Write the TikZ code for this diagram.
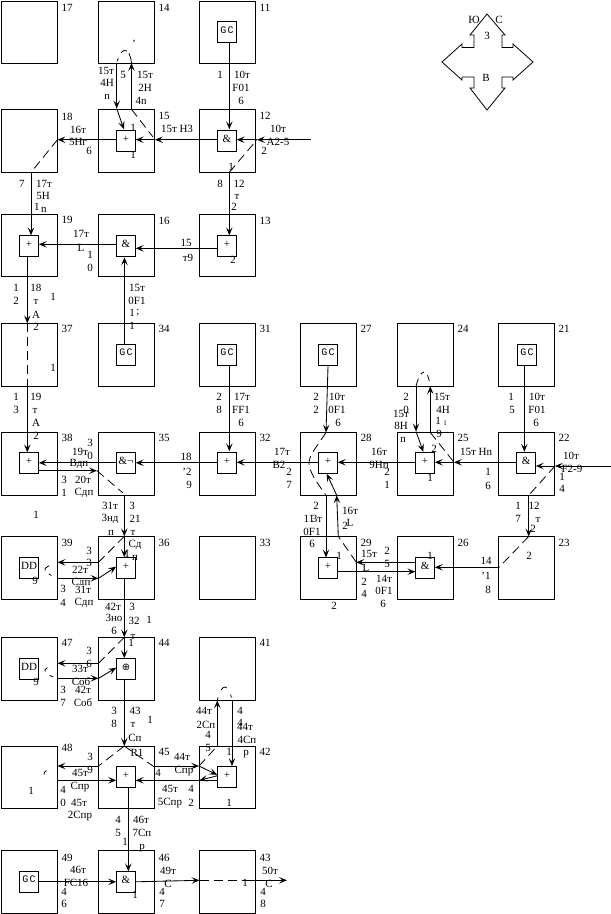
\documentclass[tikz,border=0pt]{standalone}
\usepackage{fontspec}
\setmainfont{Liberation Serif}
\newfontfamily\gcfont{Liberation Mono}
\newfontfamily\symfont{DejaVu Sans}
\usetikzlibrary{arrows.meta,calc}
\newcounter{lc}
\tikzset{
  obox/.style={draw,line width=.8pt,anchor=north west,minimum width=56pt,minimum height=62.8pt,inner sep=0pt,outer sep=0pt},
  ibox/.style={draw,line width=.8pt,anchor=north west,minimum width=19.5pt,minimum height=21pt,inner sep=0pt,outer sep=0pt,font=\fontsize{11pt}{12pt}\selectfont},
  lbl/.style={inner sep=0pt,outer sep=0pt,font=\fontsize{11pt}{12pt}\selectfont},
  clip lbl/.style={lbl,fill=white,inner xsep=2pt,inner ysep=1pt},
  arr/.style={line width=.85pt,-{Stealth[length=8pt,width=6.5pt,inset=3.5pt]}},
  ln/.style={line width=.85pt},
  dsh/.style={line width=.8pt,dash pattern=on 9pt off 5pt},
  compass/.style={draw,line width=.8pt}
}
\newcommand{\obx}[3]{\node[obox] (b#1) at (#2,#3) {};}
\newcommand{\ibx}[4]{\node[ibox] (g#1) at (#2,#3) {\raisebox{3.5pt}{#4}};}
\newcommand{\lab}[3]{\stepcounter{lc}\node[lbl] (t\arabic{lc}) at (#1,#2) {#3};}
\newcommand{\gc}{\raisebox{1pt}{\gcfont\fontsize{10pt}{11pt}\selectfont G\kern1.2pt C}}
\begin{document}
\begin{tikzpicture}[x=1pt,y=-1pt]
\useasboundingbox (0,0) rectangle (611,914);
% outer boxes
\obx{17}{1.5}{1}\obx{14}{98.5}{1}\obx{11}{199.5}{1}
\obx{18}{1.5}{109.3}\obx{15}{98.5}{109.3}\obx{12}{199.5}{109.3}
\obx{19}{1.5}{214}\obx{16}{98.5}{214}\obx{13}{199.5}{214}
\obx{37}{1.5}{323.3}\obx{34}{98.5}{323.3}\obx{31}{199.5}{323.3}
\obx{38}{1.5}{432.5}\obx{35}{98.5}{432.5}\obx{32}{199.5}{432.5}
\obx{39}{1.5}{536.3}\obx{36}{98.5}{536.3}\obx{33}{199.5}{536.3}
\obx{47}{1.5}{637.3}\obx{44}{98.5}{637.3}\obx{41}{199.5}{637.3}
\obx{48}{1.5}{746}\obx{45}{98.5}{746}\obx{42}{199.5}{746}
\obx{49}{1.5}{850.3}\obx{46}{98.5}{850.3}\obx{43}{199.5}{850.3}
\obx{27}{300.3}{323.3}\obx{24}{397.3}{323.3}\obx{21}{498.3}{323.3}
\obx{28}{300.3}{432.5}\obx{25}{397.3}{432.5}\obx{22}{498.3}{432.5}
\obx{29}{300.3}{536.3}\obx{26}{397.3}{536.3}\obx{23}{498.3}{536.3}
% inner boxes
\ibx{11}{217.2}{21.5}{\gc}
\ibx{15}{116.2}{130.3}{+}\ibx{12}{217.2}{130.3}{\&}
\ibx{19}{19.3}{235.3}{+}\ibx{16}{116.2}{235.3}{\&}\ibx{13}{217.2}{235.3}{+}
\ibx{34}{116.2}{344}{\gc}\ibx{31}{217.2}{344}{\gc}
\ibx{38}{19.3}{452.3}{+}\ibx{35}{116.2}{452.3}{\&¬}\ibx{32}{217.2}{452.3}{+}
\ibx{39}{19.3}{557.2}{DD}\ibx{36}{116.2}{557.2}{+}
\ibx{47}{19.3}{658.2}{DD}\ibx{44}{116.2}{658.2}{{\symfont\fontsize{10pt}{11pt}\selectfont ⊕}}
\ibx{45}{116.2}{766.3}{+}\ibx{42}{217.2}{766.3}{+}
\ibx{49}{19.3}{871.3}{\gc}\ibx{46}{116.2}{871.3}{\&}
\ibx{27}{318.3}{344}{\gc}\ibx{21}{517.3}{344}{\gc}
\ibx{28}{318.3}{452.3}{+}\ibx{25}{415.3}{452.3}{+}\ibx{22}{516.3}{452.3}{\&}
\ibx{29}{318.3}{557.5}{+}\ibx{26}{415.3}{557.5}{\&}
% compass
\draw[compass] (487,14)--(505,35)--(502,35)--(502,47.5)--(513,47.5)--(513,44)--(533,62)--(513,80)--(513,77)--(502,77)--(502,88)--(505,88)--(487,110)--(470,88)--(474,88)--(474,77)--(462,77)--(462,80)--(442,62)--(462,44)--(462,47.5)--(474,47.5)--(474,35)--(470,35)--cycle;
% free coordinates
\coordinate (e12r) at (311,139.7);
\coordinate (j12) at (257,139.7);
\coordinate (j15) at (155,139.7);
\coordinate (j18) at (57.5,139.7);
\coordinate (j18b) at (31,172.3);
\coordinate (k14l) at (116.7,63);
\coordinate (k14r) at (131.5,63);
\coordinate (k15l) at (116.7,108.5);
\coordinate (k15r) at (131.5,109.3);
\coordinate (j12b) at (229.3,172.3);
\coordinate (j37t) at (27.3,323.3);
\coordinate (j37b) at (27.3,386.3);
\coordinate (j35a) at (97,470.7);
\coordinate (j35b) at (124.3,495.3);
\coordinate (j36t) at (124.3,536.3);
\coordinate (j36l) at (98.5,562.3);
\coordinate (j39r) at (57.5,562.3);
\coordinate (j39s) at (57.5,578.3);
\coordinate (j36s) at (98.5,578.3);
\coordinate (j44t) at (124.3,637.3);
\coordinate (j44l) at (98.5,663.3);
\coordinate (j47r) at (57.5,663.3);
\coordinate (j47s) at (57.5,678.3);
\coordinate (j44s) at (98.5,678.3);
\coordinate (j45t) at (124.3,746);
\coordinate (j45l) at (98.5,766);
\coordinate (j48r) at (57.5,766);
\coordinate (j48s) at (57.5,780.3);
\coordinate (j45r) at (153,766);
\coordinate (j42l) at (199,766);
\coordinate (j42s) at (199.5,780.3);
\coordinate (k41l) at (217.3,700.3);
\coordinate (k41r) at (232,700.3);
\coordinate (k42l) at (217.3,746);
\coordinate (k42r) at (232,746);
\coordinate (j43l) at (199.5,880.3);
\coordinate (j43r) at (250,880.3);
\coordinate (e43) at (287,880.3);
\coordinate (j28t) at (326,432.5);
\coordinate (j28b) at (326,495.3);
\coordinate (k28r) at (336.7,495.3);
\coordinate (k29t) at (338.3,536.3);
\coordinate (j29r) at (356.3,562.3);
\coordinate (j25r) at (454,462.3);
\coordinate (k24l) at (416,386.3);
\coordinate (k24r) at (430.3,386.3);
\coordinate (k25l) at (416,431.5);
\coordinate (k25r) at (430.3,432.5);
\coordinate (e22r) at (611,466);
\coordinate (j22) at (555,466);
\coordinate (j22b) at (528.7,495.3);
\coordinate (j23t) at (528.7,536.5);
\coordinate (j23l) at (499,567.3);
% connectors, column A-C
\draw[arr] ($(g11.south)+(2.4,0)$) -- ($(g12.north)+(2.4,-1)$);
\draw[arr] (e12r) -- (j12);
\draw[arr] (j12) -- (g12.east |- j12);
\draw[arr] (g12.west |- j15) -- (j15);
\draw[arr] (j15) -- (g15.east |- j15);
\draw[arr] (g15.west |- j18) -- (j18);
\draw[dsh] (j18) -- (j18b);
\draw[arr] (j18b) -- (j18b |- g19.north);
\draw[arr] (k15r) -- (k14r);
\draw[dsh,dash pattern=on 10pt off 3pt on 7pt off 6pt on 3pt] (k14r) .. controls (130,52) and (127,50) .. (124,50.5) .. controls (121,51) and (118,58) .. (k14l);
\draw[arr] (k14l) -- (k15l);
\draw[arr] (k15l) -- ($(g15.north)+(-2,-1)$);
\draw[dsh] (k15r) -- (153,137);
\draw[dsh] (j12b) -- (j12);
\draw[arr] (j12b) -- (j12b |- g13.north);
\draw[arr] (g13.west |- 0,248.3) -- (g16.east |- 0,248.3);
\draw[arr] (g16.west |- 0,244.3) -- (g19.east |- 0,244.3);
\draw[arr] ($(g34.north)+(-1.5,0)$) -- ($(g16.south)+(-1.5,1)$);
\draw[arr] (j37t |- g19.south) -- (j37t);
\draw[dsh] (j37t) -- (j37b);
\draw[arr] (j37b) -- (j37b |- g38.north);
\draw[arr] ($(g31.south)+(2.4,0)$) -- ($(g32.north)+(2.4,-1)$);
\draw[arr] (g32.west) -- (g35.east);
\draw[arr] (g35.west) -- (g38.east);
\draw[arr] (g38.east |- j35a) -- (j35a);
\draw[dsh] (j35a) -- (123,493);
\draw[arr] (j35b) -- (j36t);
\draw[arr] (j36t) -- (j36t |- g36.north);
\draw[dsh] (j36t) -- (j36l);
\draw[arr] (j36l) -- (j39r);
\draw[dsh,dash pattern=on 0pt off 9pt on 7pt off 5pt on 3pt off 30pt] (j39r) .. controls (48,566) and (44,568) .. (45,570) .. controls (46,573) and (52,576) .. (j39s);
\draw[arr] (j39s) -- (j36s);
\draw[arr] (j36s) -- ($(g36.west)+(0,-1)$);
\draw[arr] (j36t |- g36.south) -- (j44t);
\draw[arr] (j44t) -- (j44t |- g44.north);
\draw[dsh] (j44t) -- (j44l);
\draw[arr] (j44l) -- (j47r);
\draw[dsh,dash pattern=on 0pt off 11pt on 5pt off 6pt on 4pt off 30pt] (j47r) .. controls (48,667) and (44,669) .. (45,671) .. controls (46,674) and (52,677) .. (j47s);
\draw[arr] (j47s) -- (j44s);
\draw[arr] (j44s) -- ($(g44.west)+(0,-1)$);
\draw[arr] (j44t |- g44.south) -- (j45t);
\draw[dsh] (j45t) -- (j45l);
\draw[dsh] (j45t) -- (j45r);
\draw[arr] (j45l) -- (j48r);
\draw[dsh,dash pattern=on 0pt off 12pt on 5pt off 30pt] (j48r) .. controls (48,769) and (43,772) .. (44,774) .. controls (45,776) and (52,779) .. (j48s);
\draw[arr] (j48s) -- (g45.west |- j48s);
\draw[arr] (j45r) -- (j42l);
\draw[arr] (j42l) -- ($(g42.west)+(0,-2)$);
\draw[dsh] (j42l) -- (k42l);
\draw[arr] (k42l) -- (k41l);
\draw[dsh,dash pattern=on 3pt off 8pt on 7pt off 8pt on 3pt] (k41l) .. controls (219,692) and (222,687) .. (225,687) .. controls (228,687) and (231,694) .. (k41r);
\draw[arr] (k41r) -- (j42l -| k41r);
\draw[arr] ($(g42.west)+(0,-1)$) -- (j42s);
\draw[arr] (j42s) -- (g45.east |- j42s);
\draw[ln] (g42.west |- j42s) -- (j42s);
\draw[arr] ($(g45.south)+(2.4,0)$) -- ($(g46.north)+(2.4,0)$);
\draw[arr] (g49.east) -- (g46.west);
\draw[arr] (g46.east) -- (j43l);
\draw[dsh] (j43l) -- (j43r);
\draw[arr] (j43r) -- (e43);
% connectors, columns D-F
\draw[arr] (g27.south) -- (j28t);
\draw[dsh] (j28t) .. controls (318,445) and (309,455) .. (309,463) .. controls (309,472) and (318,484) .. (j28b);
\draw[arr] (g28.west |- 0,462.3) -- (g32.east |- 0,462.3);
\draw[arr] (g25.west |- 0,462.3) -- (g28.east |- 0,462.3);
\draw[arr] (g22.west |- j25r) -- (j25r);
\draw[arr] (j25r) -- (g25.east |- j25r);
\draw[arr] (e22r) -- (j22);
\draw[arr] (j22) -- (g22.east |- j22);
\draw[arr] ($(g21.south)+(-2.7,0)$) -- ($(g22.north)+(-1.7,-.5)$);
\draw[arr] (k24l) -- (k25l);
\draw[arr] (k25l) -- ($(g25.north)+(-1.7,-.5)$);
\draw[arr] (k25r) -- (k24r);
\draw[dsh,dash pattern=on 8pt off 5pt on 4pt off 5pt on 6pt] (k24l) .. controls (418,378) and (421,372) .. (424,372) .. controls (427,372) and (429,378) .. (k24r);
\draw[dsh] (k25r) -- (j25r);
\draw[dsh] (j22) -- (j22b);
\draw[arr] (j22b) -- (j23t);
\draw[dsh] (j23t) -- (j23l);
\draw[arr] (j23l) -- (g26.east |- j23l);
\draw[arr] (g26.west |- j29r) -- (j29r);
\draw[arr] (g29.east |- 0,571.7) -- (g26.west |- 0,571.7);
\draw[dsh] (j29r) -- (k29t);
\draw[arr] (k29t) -- (k28r);
\draw[arr] (k28r) -- ($(g28.south)+(-1.3,.5)$);
\draw[arr] (j28b) -- (j28b |- g29.north);
% box numbers
\lab{67}{8}{17}\lab{164}{8}{14}\lab{265}{8}{11}
\lab{67}{117}{18}\lab{164}{116}{15}\lab{265}{116}{12}
\lab{67}{220}{19}\lab{164}{221}{16}\lab{265}{221}{13}
\lab{67}{329}{37}\lab{164}{329}{34}\lab{265}{329}{31}
\lab{67}{438}{38}\lab{164}{438}{35}\lab{265}{438}{32}
\lab{67}{543}{39}\lab{164}{543}{36}\lab{265}{543}{33}
\lab{67}{643}{47}\lab{164}{643}{44}\lab{265}{643}{41}
\lab{67}{748}{48}\lab{164}{752}{45}\lab{265}{752}{42}
\lab{67}{858}{49}\lab{164}{858}{46}\lab{265}{858}{43}
\lab{366}{329}{27}\lab{463}{329}{24}\lab{564}{329}{21}
\lab{366}{438}{28}\lab{463}{438}{25}\lab{564}{438}{22}
\lab{366}{543}{29}\lab{463}{543}{26}\lab{564}{543}{23}
% compass labels
\lab{474}{20}{Ю}\lab{499}{20}{С}\lab{487}{36}{3}\lab{486}{78}{В}
% top left group
\lab{106}{71}{15т}\lab{107}{83}{4H}\lab{107}{97}{n}\lab{123}{75}{5}
\lab{145}{75}{15т}\lab{145}{88}{2H}\lab{141}{101}{4n}\lab{134}{44}{'}
\lab{220}{75}{1}\lab{242}{75}{10т}\lab{241}{88}{F01}\lab{241}{101}{6}
\lab{133}{128}{1}\lab{133}{155}{1}\lab{177}{129}{15т Н3}
\lab{78}{130}{16т}\lab{78}{142}{5Нг}\lab{89}{151}{6}
\lab{278}{129}{10т}\lab{278}{142}{A2-5}\lab{264}{151}{2}\lab{231}{167}{1}
\lab{22}{184}{7}\lab{44}{184}{17т}\lab{43}{196}{5H}\lab{37}{207}{1}\lab{44}{210}{n}
\lab{220}{184}{8}\lab{239}{184}{12}\lab{237}{197}{т}\lab{234}{207}{2}
\lab{81}{234}{17т}\lab{81}{248}{L}\lab{90}{255}{1}\lab{90}{268}{0}
\lab{186}{243}{15}\lab{188}{258}{т9}\lab{233}{260}{2}
\lab{16}{288}{1}\lab{36}{288}{18}\lab{53}{297}{1}\lab{16}{301}{2}\lab{36}{302}{т}\lab{36}{315}{А}\lab{36}{327}{2}
\lab{137}{288}{15т}\lab{137}{301}{0F1}\lab{132}{313}{1}\lab{138}{313}{;}\lab{132}{326}{1}
\lab{53}{368}{1}\lab{16}{397}{1}\lab{36}{397}{19}\lab{16}{410}{3}\lab{35}{411}{т}\lab{36}{423}{А}\lab{36}{436}{2}
\lab{219}{397}{2}\lab{242}{397}{17т}\lab{219}{410}{8}\lab{241}{410}{FF1}\lab{241}{423}{6}
% middle left
\lab{90}{443}{3}\lab{90}{456}{0}\lab{80}{452}{19т}\lab{79}{464}{Вдп}
\lab{64}{480}{3}\lab{83}{480}{20т}\lab{64}{493}{1}\lab{84}{493}{Сдп}
\lab{186}{457}{18}\lab{187}{472}{'2}\lab{189}{485}{9}
\lab{282}{452}{17т}\lab{279}{465}{В2}\lab{289}{472}{2}\lab{289}{485}{7}
\lab{36}{515}{1}
\lab{110}{506}{31т}\lab{132}{506}{3}\lab{110}{519}{3нд}\lab{135}{519}{21}\lab{111}{533}{п}\lab{133}{533}{т}\lab{135}{545}{Сд}\lab{127}{554}{1}\lab{135}{558}{п}
\lab{89}{551}{3}\lab{89}{563}{3}\lab{80}{570}{22т}\lab{81}{583}{Сдп}
\lab{63}{589}{3}
\stepcounter{lc}\node[clip lbl] (t\arabic{lc}) at (83,590) {31т};
\lab{63}{603}{4}\lab{84}{603}{Сдп}\lab{35}{581}{9}
\lab{113}{607}{42т}\lab{132}{607}{3}\lab{114}{618}{3но}\lab{134}{621}{32}\lab{149}{620}{1}\lab{114}{631}{6}\lab{133}{637}{т}\lab{131}{643}{1}
% lower left
\lab{89}{651}{3}\lab{89}{664}{6}\lab{80}{669}{33т}\lab{81}{682}{Соб}
\lab{63}{690}{3}
\stepcounter{lc}\node[clip lbl] (t\arabic{lc}) at (83,690) {42т};
\lab{63}{703}{7}\lab{83}{703}{Соб}\lab{36}{682}{9}
\lab{114}{711}{3}\lab{135}{711}{43}\lab{114}{724}{8}\lab{133}{725}{т}\lab{150}{720}{1}\lab{135}{738}{Сп}
\lab{204}{711}{44т}\lab{240}{711}{4}\lab{206}{725}{2Сп}\lab{240}{723}{4}\lab{245}{727}{44т}\lab{208}{735}{4}\lab{247}{740}{4Сп}\lab{208}{748}{5}\lab{229}{752}{1}\lab{246}{754}{р}
\lab{137}{753}{R1}\lab{90}{757}{3}\lab{90}{770}{9}\lab{80}{773}{45т}\lab{80}{787}{Спр}
\lab{63}{790}{4}\lab{63}{803}{0}\lab{79}{803}{45т}\lab{80}{816}{2Спр}\lab{31}{791}{1}
\lab{182}{757}{44т}\lab{184}{771}{Спр}\lab{158}{773}{4}\lab{170}{789}{45т}\lab{191}{789}{4}\lab{170}{803}{5Спр}\lab{191}{803}{2}\lab{229}{803}{1}
\lab{118}{820}{4}\lab{141}{820}{46т}\lab{118}{833}{5}\lab{142}{833}{7Сп}\lab{125}{842}{1}\lab{142}{848}{р}
\lab{78}{870}{46т}\lab{76}{883}{FC16}\lab{64}{892}{4}\lab{64}{904}{6}
\lab{168}{871}{49т}\lab{168}{884}{С}\lab{162}{892}{4}\lab{162}{904}{7}\lab{135}{895}{1}
\lab{270}{871}{50т}\lab{269}{884}{С}\lab{263}{892}{4}\lab{263}{904}{8}\lab{245}{883}{1}
% right group
\lab{316}{397}{2}\lab{337}{397}{10т}\lab{316}{410}{2}\lab{337}{410}{0F1}\lab{338}{423}{6}
\lab{406}{397}{2}\lab{406}{410}{0}\lab{401}{414}{15т}\lab{401}{426}{8H}\lab{403}{440}{n}
\lab{442}{397}{15т}\lab{443}{410}{4H}\lab{438}{421}{1}\lab{445}{423}{\scriptsize 1}\lab{439}{434}{9}\lab{434}{449}{2}
\lab{511}{397}{1}\lab{537}{397}{10т}\lab{512}{410}{5}\lab{537}{410}{F01}\lab{536}{423}{6}
\lab{379}{452}{16т}\lab{379}{465}{9Нп}\lab{387}{472}{2}\lab{387}{485}{1}
\lab{476}{452}{15т Нn}\lab{571}{456}{10т}\lab{572}{469}{F2-9}\lab{562}{477}{1}\lab{562}{489}{4}
\lab{488}{472}{1}\lab{488}{486}{6}\lab{430}{478}{1}
\lab{316}{506}{2}\lab{309}{519}{11}\lab{317}{519}{3т}\lab{312}{532}{0F1}\lab{312}{544}{6}
\lab{350}{511}{16т}\lab{350}{523}{L}\lab{345}{526}{2}
\lab{518}{506}{1}\lab{534}{506}{12}\lab{518}{519}{7}\lab{538}{520}{т}\lab{533}{529}{2}
\lab{339}{556}{1}\lab{369}{554}{15т}\lab{387}{551}{2}\lab{387}{564}{5}\lab{366}{568}{L}
\lab{384}{579}{14т}\lab{364}{582}{2}\lab{364}{594}{4}\lab{384}{591}{0F1}\lab{383}{604}{6}\lab{334}{606}{2}
\lab{430}{556}{1}\lab{486}{561}{14}\lab{486}{576}{'1}\lab{488}{590}{8}\lab{529}{556}{2}
\end{tikzpicture}
\end{document}
